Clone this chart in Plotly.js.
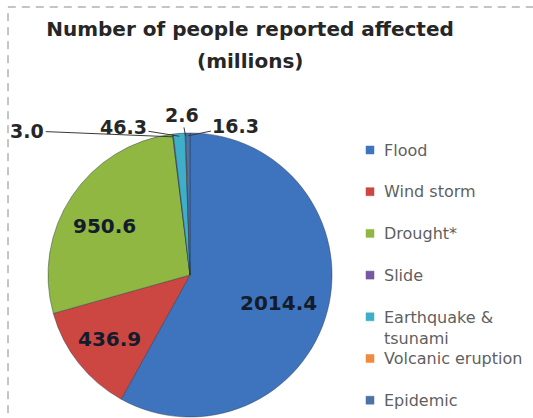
<!DOCTYPE html>
<html><head><meta charset="utf-8">
<script src="https://cdn.plot.ly/plotly-3.0.1.min.js"></script>
<style>html,body{margin:0;padding:0;background:#fff}#chart{width:533px;height:418px}</style>
</head><body><div id="chart"></div>
<script>
// ---- data ----
const categories = ['Flood', 'Wind storm', 'Drought*', 'Slide', 'Earthquake & tsunami', 'Volcanic eruption', 'Epidemic'];
const values = [2014.4, 436.9, 950.6, 3.0, 46.3, 2.6, 16.3];
const colors = ['#3E74BE', '#CC4742', '#8FB742', '#7758A3', '#3FAEC8', '#F08A3C', '#4C72A6'];
const titleText = 'Number of people reported affected';
const subtitleText = '(millions)';

// ---- layout geometry (pixels) ----
const W = 533, H = 418;
const pie = {cx: 190, cy: 275, r: 142};
const px = x => x / W;
const py = y => 1 - y / H;
const FONT = '"DejaVu Sans", Verdana, sans-serif';

// outside label offsets (pixels from slice edge) for tiny slices
const outsideOffsets = {3: [-146, -6], 4: [-56, -9], 5: [-4, -21], 6: [48, -10]};

const total = values.reduce((a, b) => a + b, 0);
const annotations = [];
let cum = 0;
values.forEach((v, i) => {
  const mid = (cum + v / 2) / total * 2 * Math.PI; // clockwise from 12 o'clock
  cum += v;
  const sx = Math.sin(mid), cy = Math.cos(mid);
  const label = v.toFixed(1);
  if (outsideOffsets[i]) {
    const ex = pie.cx + pie.r * 0.98 * sx, ey = pie.cy - pie.r * 0.98 * cy;
    annotations.push({
      x: px(ex), y: py(ey), xref: 'paper', yref: 'paper', text: label,
      showarrow: true, arrowhead: 0, arrowwidth: 1, arrowcolor: '#3a3a3a',
      ax: outsideOffsets[i][0], ay: outsideOffsets[i][1],
      font: {family: FONT, size: 19, weight: 'bold', color: '#262626'}
    });
  } else {
    const f = 0.68;
    const lx = pie.cx + pie.r * f * sx - 5, ly = pie.cy - pie.r * f * cy + 4;
    annotations.push({
      x: px(lx), y: py(ly), xref: 'paper', yref: 'paper', text: label, showarrow: false,
      xanchor: 'center', yanchor: 'middle',
      font: {family: FONT, size: 20, weight: 'bold', color: '#141c2c'}
    });
  }
});

// subtitle line
annotations.push({
  x: px(250), y: py(61), xref: 'paper', yref: 'paper', text: subtitleText, showarrow: false,
  xanchor: 'center', yanchor: 'middle',
  font: {family: FONT, size: 20, weight: 'bold', color: '#262626'}
});

// custom legend (Excel-style evenly spaced entries)
const shapes = [];
const legTop = 150, legStep = 41.7, legFont = 16, legLine = 19;
function wrap(s, n) {
  if (s.length <= n) return [s];
  const cut = s.lastIndexOf(' ', n);
  return [s.slice(0, cut), s.slice(cut + 1)];
}
categories.forEach((c, i) => {
  const yc = legTop + i * legStep;
  shapes.push({type: 'rect', xref: 'paper', yref: 'paper',
    x0: px(366), x1: px(374), y0: py(yc + 4), y1: py(yc - 4),
    fillcolor: colors[i], line: {color: colors[i], width: 0.5}});
  const lines = wrap(c, 18);
  annotations.push({
    x: px(382), y: py(yc), xref: 'paper', yref: 'paper',
    text: lines.join('<br>'), showarrow: false, align: 'left',
    xanchor: 'left', yanchor: lines.length > 1 ? 'top' : 'middle',
    yshift: lines.length > 1 ? legLine / 2 + 1 : 0,
    font: {family: FONT, size: legFont, color: '#5f5f5f'}
  });
});

// dashed frame
shapes.push({type: 'rect', xref: 'paper', yref: 'paper',
  x0: px(8), x1: 1.2, y0: -0.2, y1: py(7),
  line: {color: '#8a8a8a', width: 1, dash: '8px,6px'}, fillcolor: 'rgba(0,0,0,0)'});

const trace = {
  type: 'pie', labels: categories, values: values, sort: false,
  direction: 'clockwise', rotation: 0,
  marker: {colors: colors, line: {color: 'rgba(40,50,70,0.55)', width: 0.8}},
  textinfo: 'none', hoverinfo: 'label+value',
  domain: {x: [px(pie.cx - pie.r), px(pie.cx + pie.r)], y: [py(pie.cy + pie.r), py(pie.cy - pie.r)]},
  showlegend: false
};

const layout = {
  width: W, height: H, margin: {l: 0, r: 0, t: 0, b: 0},
  paper_bgcolor: '#ffffff', plot_bgcolor: '#ffffff',
  title: {text: titleText, x: px(250), xanchor: 'center', xref: 'paper',
    y: py(29), yanchor: 'middle', yref: 'container',
    font: {family: FONT, size: 20, weight: 'bold', color: '#262626'}},
  annotations: annotations, shapes: shapes, showlegend: false
};

Plotly.newPlot('chart', [trace], layout, {displayModeBar: false, staticPlot: true});
</script>
</body></html>
